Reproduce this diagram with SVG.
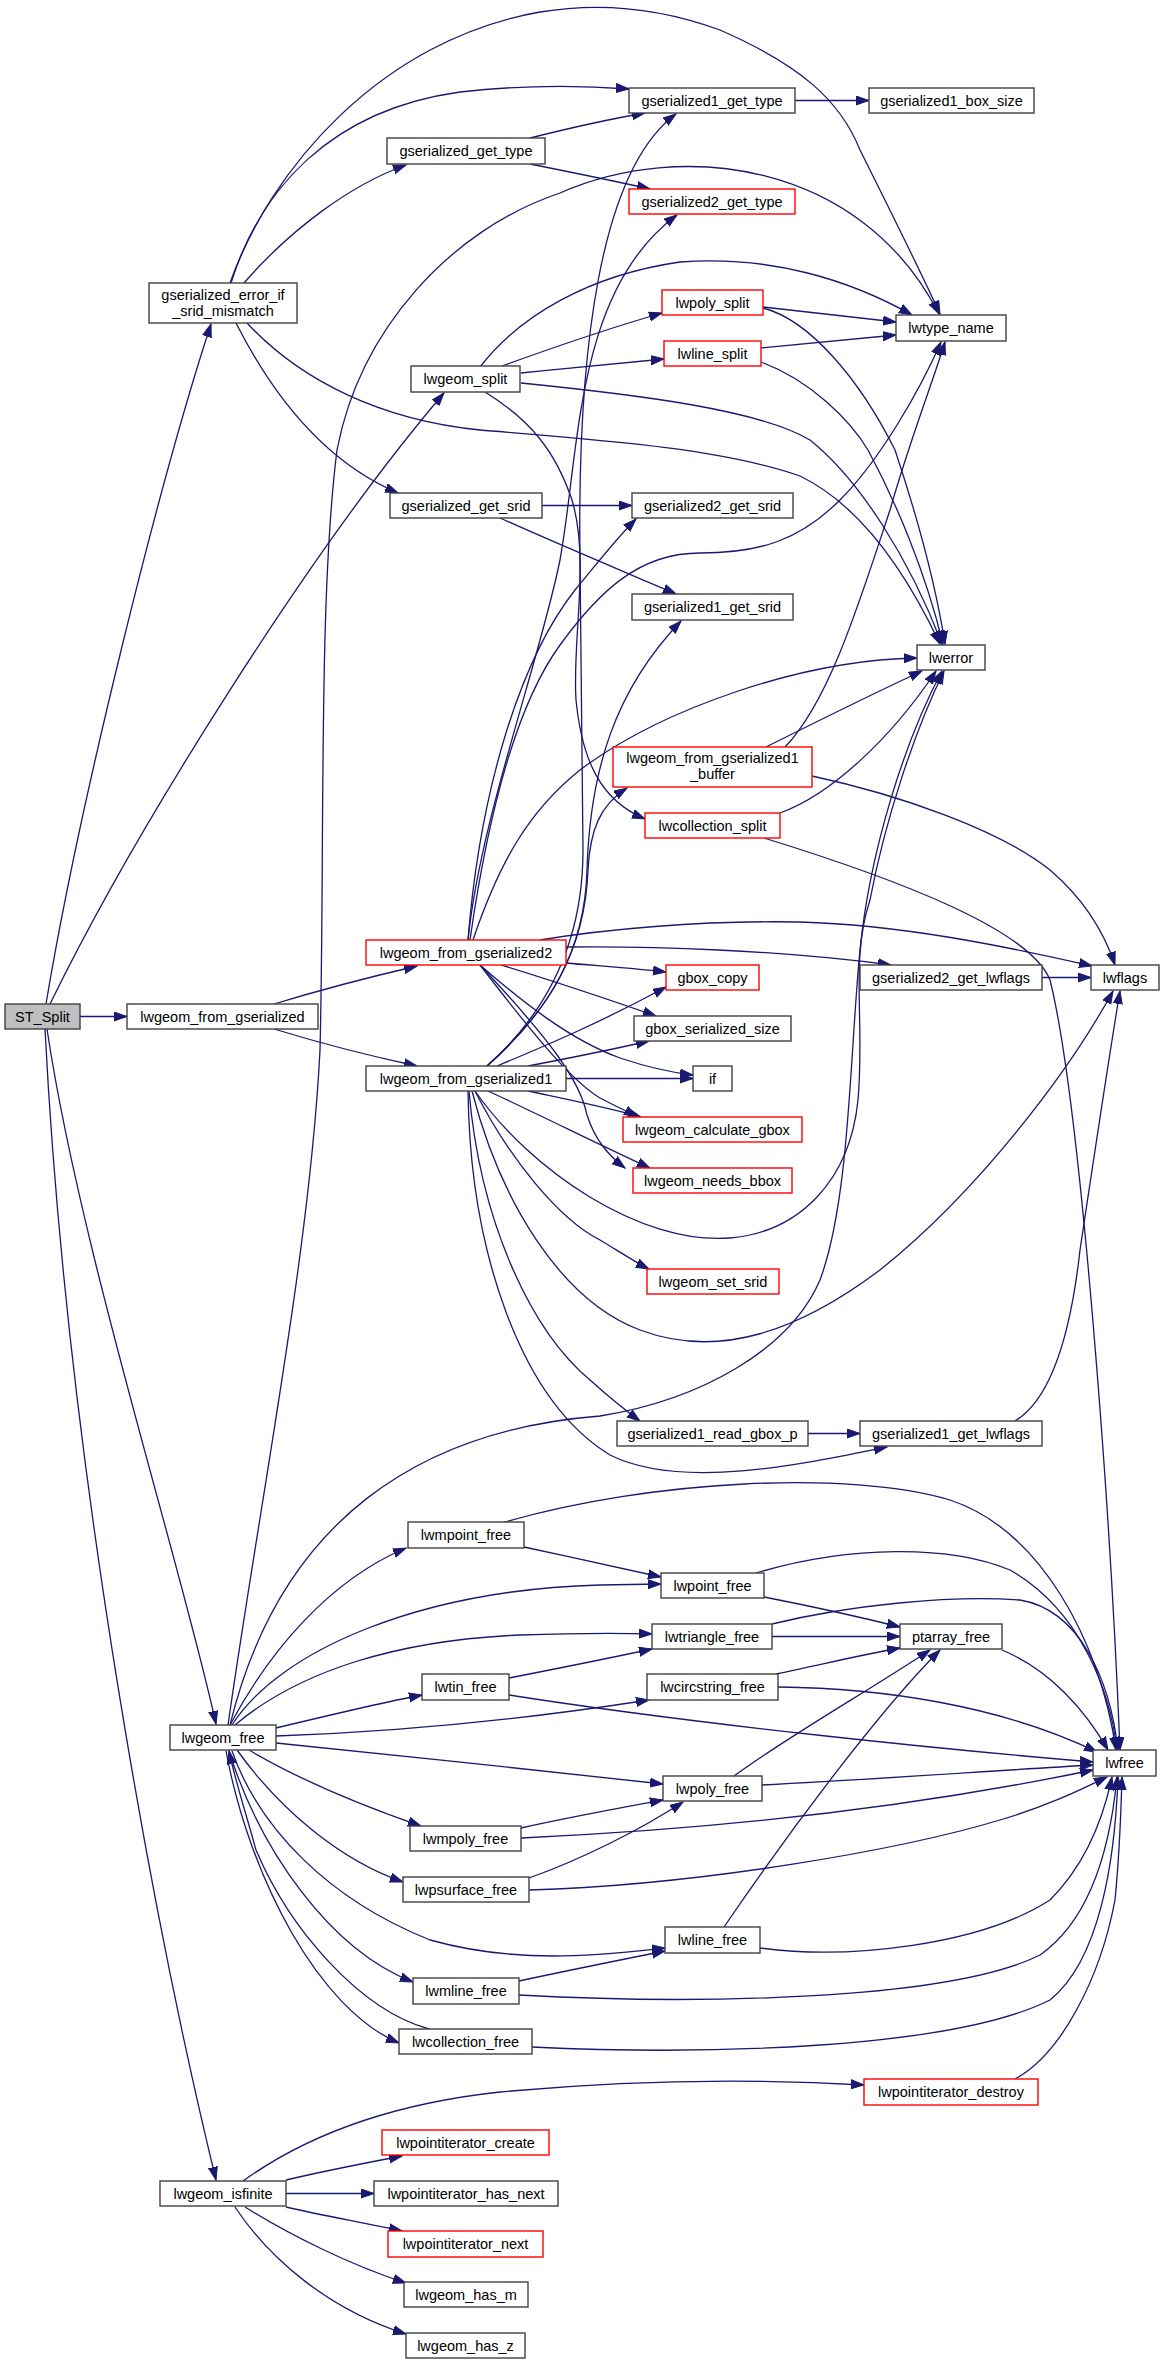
<svg xmlns="http://www.w3.org/2000/svg" width="1164" height="2364" viewBox="0 0 1164 2364">
<style>
.node rect{fill:#ffffff;stroke:#404040;stroke-width:1.4}
.node.red rect{stroke:#ff0000}
.node.root rect{fill:#bfbfbf}
.node text{font-family:"Liberation Sans",Arial,sans-serif;font-size:14.5px;fill:#000000;text-anchor:middle}
.edges path{fill:none;stroke:#191970;stroke-width:1.3;marker-end:url(#arr)}
</style>
<defs>
<marker id="arr" markerUnits="userSpaceOnUse" markerWidth="15" markerHeight="11" refX="13" refY="5" orient="auto">
<path d="M0,0.5 L13,5 L0,9.5 z" fill="#191970" stroke="#191970" stroke-width="1"/>
</marker>
</defs>
<rect x="0" y="0" width="1164" height="2364" fill="#ffffff"/>
<g class="edges" id="edges">
<path d="M80,1016.5 L127,1016.5"/>
<path d="M46,1004 C80,800 160,480 211,324"/>
<path d="M50,1004 C135,830 310,550 444,393"/>
<path d="M47,1029 C80,1250 180,1560 216,1724"/>
<path d="M45,1029 C68,1480 160,1950 216,2180"/>
<path d="M274,1004 C320,990 370,977 417,966"/>
<path d="M274,1029 C320,1043 370,1056 417,1066"/>
<path d="M244,283 C290,230 350,185 406,165"/>
<path d="M231,283 C260,190 330,110 460,92 C530,84 590,86 629,89"/>
<path d="M230,283 C270,170 380,40 540,12 C600,2 660,8 720,30 C800,65 840,100 860,150 C890,210 920,270 940,314"/>
<path d="M236,323 C270,390 320,460 398,493"/>
<path d="M247,323 C300,380 380,420 480,430 C600,440 720,448 800,476 C860,505 905,570 940,644"/>
<path d="M530,138 C570,128 610,119 645,113"/>
<path d="M530,164 C570,172 610,180 650,189"/>
<path d="M795,100.5 L869,100.5"/>
<path d="M480,367 C520,315 590,275 680,262 C770,255 850,280 912,315"/>
<path d="M502,366 C560,345 610,328 662,313"/>
<path d="M521,373 C570,368 620,363 664,359"/>
<path d="M521,383 C640,395 760,410 810,440 C860,480 910,560 942,644"/>
<path d="M485,392 C530,420 555,450 572,500 C590,560 572,640 576,700 C582,760 600,800 645,819"/>
<path d="M763,307 L896,322"/>
<path d="M761,348 L896,335"/>
<path d="M763,308 C810,320 860,380 895,450 C915,510 935,580 945,644"/>
<path d="M761,362 C810,380 850,420 868,450 C895,500 925,570 943,644"/>
<path d="M542,505.5 L632,505.5"/>
<path d="M500,518 C560,545 620,570 676,594"/>
<path d="M766,747 C820,720 870,695 922,671"/>
<path d="M785,747 C830,700 860,600 890,510 C910,440 930,390 945,342"/>
<path d="M812,776 C900,795 1000,830 1050,870 C1085,900 1105,935 1115,965"/>
<path d="M780,813 C830,795 890,740 936,671"/>
<path d="M764,838 C900,880 1030,930 1050,980 C1080,1100 1110,1500 1120,1750"/>
<path d="M487,1066 C550,1010 585,950 588,870 C590,830 600,805 627,788"/>
<path d="M487,1066 C550,1010 585,950 587,870 C590,770 615,690 681,621"/>
<path d="M487,1066 C550,1010 583,940 583,850 L580,560 C577,350 600,170 676,114"/>
<path d="M468,940 C480,820 540,660 560,560 C580,450 575,290 677,215"/>
<path d="M468,940 C480,790 520,660 575,590 C600,560 615,540 636,519"/>
<path d="M470,940 C490,800 520,700 560,645 C600,590 640,553 700,553 C760,553 800,540 840,500 C880,460 920,390 941,342"/>
<path d="M473,940 C500,860 530,810 580,770 C660,710 800,660 917,658"/>
<path d="M540,940 C600,930 700,920 800,922 C900,925 1000,945 1092,966"/>
<path d="M566,947 C650,946 780,950 891,965"/>
<path d="M566,963 C600,966 640,969 666,972"/>
<path d="M497,1066 C540,1048 600,1023 666,987"/>
<path d="M501,965 C550,980 610,1000 656,1016"/>
<path d="M528,1066 C570,1058 610,1050 649,1041"/>
<path d="M480,965 C520,1000 570,1040 620,1058 C650,1068 675,1073 693,1075"/>
<path d="M566,1078.5 L693,1078.5"/>
<path d="M480,965 C530,1030 570,1080 600,1098 C615,1106 625,1110 637,1117"/>
<path d="M528,1091 C570,1100 610,1108 641,1117"/>
<path d="M480,965 C550,1040 580,1080 587,1115 C595,1140 608,1155 625,1168"/>
<path d="M488,1091 C540,1115 600,1145 650,1168"/>
<path d="M475,1091 C530,1170 640,1245 730,1238 C800,1232 850,1180 858,1100 C865,1020 850,960 870,900 C885,820 915,730 944,671"/>
<path d="M475,1091 C510,1160 560,1220 600,1240 C620,1252 635,1262 649,1269"/>
<path d="M472,1091 C500,1200 560,1300 640,1330 C720,1360 800,1330 880,1270 C980,1190 1070,1070 1113,991"/>
<path d="M469,1091 C480,1220 530,1330 590,1380 C610,1398 625,1410 640,1421"/>
<path d="M468,1091 C470,1250 520,1400 610,1455 C680,1490 800,1465 887,1447"/>
<path d="M808,1433.5 L860,1433.5"/>
<path d="M1015,1421 C1050,1400 1070,1340 1080,1250 C1095,1150 1110,1050 1120,991"/>
<path d="M1042,977.5 L1091,977.5"/>
<path d="M228,1725 C260,1500 310,1250 320,1050 C325,850 318,600 337,450 C360,330 450,230 560,193 C680,140 860,160 939,314"/>
<path d="M230,1725 C280,1520 420,1430 600,1416 C700,1400 790,1350 820,1280 C850,1200 850,1050 860,950 C870,850 905,740 942,671"/>
<path d="M230,1725 C270,1650 330,1580 406,1548"/>
<path d="M232,1725 C280,1650 420,1590 600,1585 L661,1584"/>
<path d="M235,1725 C300,1670 400,1640 520,1635 C580,1633 620,1633 652,1634"/>
<path d="M276,1728 C330,1715 380,1703 422,1695"/>
<path d="M276,1736 C400,1732 520,1720 649,1700"/>
<path d="M276,1743 C400,1755 550,1772 663,1784"/>
<path d="M249,1750 C300,1780 360,1805 421,1826"/>
<path d="M237,1750 C280,1810 340,1860 403,1882"/>
<path d="M232,1751 C260,1830 330,1900 430,1940 C520,1965 600,1955 665,1948"/>
<path d="M229,1751 C260,1850 330,1950 413,1982"/>
<path d="M226,1751 C250,1880 320,2010 399,2043"/>
<path d="M429,2029 C360,2010 290,1930 256,1850 C245,1810 235,1780 229,1751"/>
<path d="M505,1522 C650,1480 850,1470 950,1500 C1040,1530 1100,1640 1116,1750"/>
<path d="M524,1547 C570,1557 620,1568 661,1577"/>
<path d="M756,1573 C850,1545 950,1545 1010,1570 C1080,1610 1110,1690 1117,1750"/>
<path d="M764,1597 C810,1606 860,1617 900,1627"/>
<path d="M772,1636.5 L900,1636.5"/>
<path d="M772,1624 C850,1605 950,1595 1020,1600 C1080,1610 1110,1680 1118,1750"/>
<path d="M509,1678 C560,1668 610,1658 652,1649"/>
<path d="M509,1695 C700,1725 950,1750 1093,1762"/>
<path d="M776,1674 C820,1665 860,1655 900,1648"/>
<path d="M778,1687 C880,1688 1000,1705 1097,1752"/>
<path d="M1002,1650 C1050,1670 1085,1710 1108,1750"/>
<path d="M734,1776 C790,1735 870,1690 930,1650"/>
<path d="M724,1927 C790,1830 880,1710 940,1650"/>
<path d="M762,1785 C900,1778 1000,1770 1093,1765"/>
<path d="M521,1828 C570,1817 620,1808 663,1800"/>
<path d="M521,1838 C700,1830 900,1810 1093,1770"/>
<path d="M529,1878 C580,1860 640,1830 683,1802"/>
<path d="M529,1890 C700,1885 900,1850 1000,1820 C1050,1805 1080,1790 1107,1777"/>
<path d="M760,1948 C850,1960 980,1945 1050,1900 C1090,1860 1105,1810 1112,1777"/>
<path d="M519,1981 C570,1970 620,1960 665,1951"/>
<path d="M519,1995 C700,2005 950,2000 1040,1955 C1090,1920 1110,1850 1117,1777"/>
<path d="M532,2047 C700,2055 950,2050 1050,2000 C1100,1960 1115,1860 1118,1777"/>
<path d="M1015,2079 C1060,2055 1100,1980 1115,1900 C1120,1850 1121,1810 1122,1777"/>
<path d="M243,2181 C300,2140 380,2105 500,2092 C650,2078 780,2080 864,2085"/>
<path d="M286,2180 C320,2172 360,2164 402,2156"/>
<path d="M286,2193.5 L374,2193.5"/>
<path d="M286,2207 C320,2215 360,2222 402,2231"/>
<path d="M245,2207 C290,2235 350,2265 406,2283"/>
<path d="M235,2207 C270,2260 330,2310 406,2334"/>
</g>
<g id="n_ST_Split" class="node root"><rect x="5" y="1004" width="75" height="25"/><text x="42.5" y="1021.5">ST_Split</text></g>
<g id="n_lwgeom_from_gserialized" class="node"><rect x="127" y="1004" width="191" height="25"/><text x="222.5" y="1021.5">lwgeom_from_gserialized</text></g>
<g id="n_lwgeom_from_gserialized2" class="node red"><rect x="366" y="940" width="200" height="25"/><text x="466" y="957.5">lwgeom_from_gserialized2</text></g>
<g id="n_lwgeom_from_gserialized1" class="node"><rect x="366" y="1066" width="200" height="25"/><text x="466" y="1083.5">lwgeom_from_gserialized1</text></g>
<g id="n_gserialized_error_if_srid_mismatch" class="node"><rect x="149" y="283" width="148" height="40"/><text x="223" y="300">gserialized_error_if</text><text x="223" y="315.5">_srid_mismatch</text></g>
<g id="n_gserialized_get_type" class="node"><rect x="387" y="138" width="158" height="26"/><text x="466" y="156">gserialized_get_type</text></g>
<g id="n_gserialized1_get_type" class="node"><rect x="629" y="88" width="166" height="25"/><text x="712" y="105.5">gserialized1_get_type</text></g>
<g id="n_gserialized1_box_size" class="node"><rect x="869" y="88" width="165" height="25"/><text x="951.5" y="105.5">gserialized1_box_size</text></g>
<g id="n_gserialized2_get_type" class="node red"><rect x="629" y="189" width="166" height="25"/><text x="712" y="206.5">gserialized2_get_type</text></g>
<g id="n_lwgeom_split" class="node"><rect x="411" y="366" width="109" height="26"/><text x="465.5" y="384">lwgeom_split</text></g>
<g id="n_lwpoly_split" class="node red"><rect x="662" y="290" width="101" height="25"/><text x="712.5" y="307.5">lwpoly_split</text></g>
<g id="n_lwline_split" class="node red"><rect x="664" y="341" width="97" height="25"/><text x="712.5" y="358.5">lwline_split</text></g>
<g id="n_lwtype_name" class="node"><rect x="896" y="315" width="110" height="26"/><text x="951" y="333">lwtype_name</text></g>
<g id="n_gserialized_get_srid" class="node"><rect x="390" y="493" width="152" height="25"/><text x="466" y="510.5">gserialized_get_srid</text></g>
<g id="n_gserialized2_get_srid" class="node"><rect x="632" y="493" width="161" height="25"/><text x="712.5" y="510.5">gserialized2_get_srid</text></g>
<g id="n_gserialized1_get_srid" class="node"><rect x="632" y="594" width="161" height="26"/><text x="712.5" y="612">gserialized1_get_srid</text></g>
<g id="n_lwerror" class="node"><rect x="917" y="645" width="68" height="25"/><text x="951" y="662.5">lwerror</text></g>
<g id="n_lwgeom_from_gserialized1_buffer" class="node red"><rect x="613" y="747" width="199" height="40"/><text x="712.5" y="763">lwgeom_from_gserialized1</text><text x="712.5" y="778.5">_buffer</text></g>
<g id="n_lwcollection_split" class="node red"><rect x="645" y="813" width="135" height="25"/><text x="712.5" y="830.5">lwcollection_split</text></g>
<g id="n_gbox_copy" class="node red"><rect x="666" y="965" width="93" height="25"/><text x="712.5" y="982.5">gbox_copy</text></g>
<g id="n_gbox_serialized_size" class="node"><rect x="634" y="1016" width="157" height="25"/><text x="712.5" y="1033.5">gbox_serialized_size</text></g>
<g id="n_if" class="node"><rect x="693" y="1066" width="39" height="25"/><text x="712.5" y="1083.5">if</text></g>
<g id="n_lwgeom_calculate_gbox" class="node red"><rect x="623" y="1117" width="179" height="25"/><text x="712.5" y="1134.5">lwgeom_calculate_gbox</text></g>
<g id="n_lwgeom_needs_bbox" class="node red"><rect x="633" y="1168" width="159" height="25"/><text x="712.5" y="1185.5">lwgeom_needs_bbox</text></g>
<g id="n_lwgeom_set_srid" class="node red"><rect x="647" y="1269" width="132" height="25"/><text x="713" y="1286.5">lwgeom_set_srid</text></g>
<g id="n_gserialized2_get_lwflags" class="node"><rect x="860" y="965" width="182" height="25"/><text x="951" y="982.5">gserialized2_get_lwflags</text></g>
<g id="n_lwflags" class="node"><rect x="1091" y="965" width="68" height="25"/><text x="1125" y="982.5">lwflags</text></g>
<g id="n_gserialized1_read_gbox_p" class="node"><rect x="617" y="1421" width="191" height="25"/><text x="712.5" y="1438.5">gserialized1_read_gbox_p</text></g>
<g id="n_gserialized1_get_lwflags" class="node"><rect x="860" y="1421" width="182" height="25"/><text x="951" y="1438.5">gserialized1_get_lwflags</text></g>
<g id="n_lwmpoint_free" class="node"><rect x="408" y="1522" width="116" height="26"/><text x="466" y="1540">lwmpoint_free</text></g>
<g id="n_lwpoint_free" class="node"><rect x="661" y="1573" width="103" height="25"/><text x="712.5" y="1590.5">lwpoint_free</text></g>
<g id="n_lwtriangle_free" class="node"><rect x="652" y="1624" width="120" height="25"/><text x="712" y="1641.5">lwtriangle_free</text></g>
<g id="n_ptarray_free" class="node"><rect x="900" y="1624" width="102" height="25"/><text x="951" y="1641.5">ptarray_free</text></g>
<g id="n_lwtin_free" class="node"><rect x="422" y="1674" width="87" height="26"/><text x="465.5" y="1692">lwtin_free</text></g>
<g id="n_lwcircstring_free" class="node"><rect x="647" y="1674" width="131" height="26"/><text x="712.5" y="1692">lwcircstring_free</text></g>
<g id="n_lwgeom_free" class="node"><rect x="170" y="1725" width="106" height="25"/><text x="223" y="1742.5">lwgeom_free</text></g>
<g id="n_lwfree" class="node"><rect x="1093" y="1750" width="63" height="26"/><text x="1124.5" y="1768">lwfree</text></g>
<g id="n_lwpoly_free" class="node"><rect x="663" y="1776" width="99" height="25"/><text x="712.5" y="1793.5">lwpoly_free</text></g>
<g id="n_lwmpoly_free" class="node"><rect x="410" y="1826" width="111" height="25"/><text x="465.5" y="1843.5">lwmpoly_free</text></g>
<g id="n_lwpsurface_free" class="node"><rect x="403" y="1877" width="126" height="25"/><text x="466" y="1894.5">lwpsurface_free</text></g>
<g id="n_lwline_free" class="node"><rect x="665" y="1927" width="95" height="26"/><text x="712.5" y="1945">lwline_free</text></g>
<g id="n_lwmline_free" class="node"><rect x="413" y="1978" width="106" height="26"/><text x="466" y="1996">lwmline_free</text></g>
<g id="n_lwcollection_free" class="node"><rect x="399" y="2029" width="133" height="25"/><text x="465.5" y="2046.5">lwcollection_free</text></g>
<g id="n_lwpointiterator_destroy" class="node red"><rect x="864" y="2079" width="174" height="26"/><text x="951" y="2097">lwpointiterator_destroy</text></g>
<g id="n_lwpointiterator_create" class="node red"><rect x="382" y="2130" width="167" height="25"/><text x="465.5" y="2147.5">lwpointiterator_create</text></g>
<g id="n_lwgeom_isfinite" class="node"><rect x="160" y="2181" width="126" height="25"/><text x="223" y="2198.5">lwgeom_isfinite</text></g>
<g id="n_lwpointiterator_has_next" class="node"><rect x="374" y="2181" width="184" height="25"/><text x="466" y="2198.5">lwpointiterator_has_next</text></g>
<g id="n_lwpointiterator_next" class="node red"><rect x="388" y="2231" width="155" height="26"/><text x="465.5" y="2249">lwpointiterator_next</text></g>
<g id="n_lwgeom_has_m" class="node"><rect x="404" y="2282" width="124" height="25"/><text x="466" y="2299.5">lwgeom_has_m</text></g>
<g id="n_lwgeom_has_z" class="node"><rect x="406" y="2333" width="119" height="25"/><text x="465.5" y="2350.5">lwgeom_has_z</text></g>
</svg>
